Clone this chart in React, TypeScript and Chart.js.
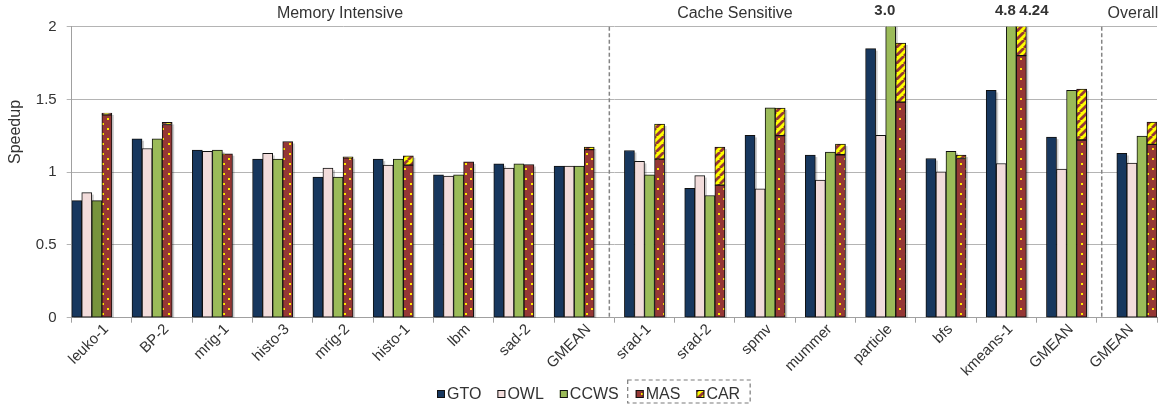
import { useEffect, useRef } from 'react';
import { Chart, registerables } from 'chart.js';

Chart.register(...registerables);

const FONT = '"Liberation Sans", Arial, Helvetica, sans-serif';
Chart.defaults.font.family = FONT;

// Benchmarks along the x axis, and the section each one belongs to
const categories = [
  'leuko-1', 'BP-2', 'mrig-1', 'histo-3', 'mrig-2', 'histo-1', 'lbm', 'sad-2', 'GMEAN',
  'srad-1', 'srad-2', 'spmv', 'mummer', 'particle', 'bfs', 'kmeans-1', 'GMEAN',
  'GMEAN',
];
const sectionOfCategory = [0, 0, 0, 0, 0, 0, 0, 0, 0, 1, 1, 1, 1, 1, 1, 1, 1, 2];
const sectionTitles = ['Memory Intensive', 'Cache Sensitive', 'Overall'];
// where each section heading sits, in category units
const sectionTitleAt = [3.95, 10.5, 17.1];

// Speedup per scheme
const gto = [0.805, 1.23, 1.152, 1.09, 0.966, 1.09, 0.982, 1.058, 1.042, 1.149, 0.89, 1.253, 1.118, 1.849, 1.094, 1.562, 1.241, 1.129];
const owl = [0.86, 1.163, 1.143, 1.129, 1.028, 1.049, 0.973, 1.028, 1.042, 1.074, 0.977, 0.886, 0.946, 1.253, 1.003, 1.06, 1.021, 1.062];
const ccws = [0.805, 1.23, 1.152, 1.09, 0.966, 1.09, 0.982, 1.058, 1.042, 0.982, 0.84, 1.443, 1.138, 3.0, 1.143, 4.8, 1.562, 1.248];
const mas = [1.395, 1.328, 1.127, 1.211, 1.099, 1.049, 1.071, 1.053, 1.155, 1.09, 0.911, 1.251, 1.12, 1.482, 1.094, 1.801, 1.221, 1.191];
// MAS + CAR combined speedup (CAR segment sits on top of MAS)
const masWithCar: (number | null)[] = [1.407, 1.342, null, null, 1.106, 1.113, null, null, 1.173, 1.331, 1.173, 1.441, 1.193, 1.888, 1.118, 4.24, 1.572, 1.345];

const yTicks = [0, 0.5, 1, 1.5, 2];
const yMax = 2;
const darkCcwsAt = [0];

const TEXT = '#333333';

function makeDots(ctx: CanvasRenderingContext2D): CanvasPattern {
  const c = document.createElement('canvas');
  c.width = 11;
  c.height = 10;
  const g = c.getContext('2d')!;
  g.fillStyle = '#953735';
  g.fillRect(0, 0, 11, 10);
  g.fillStyle = '#FFE600';
  g.fillRect(3, 3, 2, 2);
  g.fillRect(8, 8, 2, 2);
  return ctx.createPattern(c, 'repeat')!;
}

function makeStripes(ctx: CanvasRenderingContext2D): CanvasPattern {
  const s = 8;
  const c = document.createElement('canvas');
  c.width = s;
  c.height = s;
  const g = c.getContext('2d')!;
  g.fillStyle = '#FFFF00';
  g.fillRect(0, 0, s, s);
  g.strokeStyle = '#953735';
  g.lineWidth = 2.8;
  g.beginPath();
  for (const o of [-s, 0, s]) {
    g.moveTo(o, s);
    g.lineTo(o + s, 0);
  }
  g.stroke();
  return ctx.createPattern(c, 'repeat')!;
}

export default function App() {
  const ref = useRef<HTMLCanvasElement>(null);

  useEffect(() => {
    const canvas = ref.current!;
    const ctx0 = canvas.getContext('2d')!;
    const masFill = makeDots(ctx0);
    const carFill = makeStripes(ctx0);

    const series = [
      { label: 'GTO', slot: 0, fill: '#17375E' as any, at: (i: number) => gto[i] as any },
      { label: 'OWL', slot: 1, fill: '#F2DCDB' as any, at: (i: number) => owl[i] as any },
      { label: 'CCWS', slot: 2, fill: '#9BBB59' as any, at: (i: number) => ccws[i] as any },
      { label: 'MAS', slot: 3, fill: masFill as any, at: (i: number) => mas[i] as any },
      {
        label: 'CAR', slot: 3, fill: carFill as any,
        at: (i: number) => (masWithCar[i] === null ? null : [mas[i], masWithCar[i]]) as any,
      },
    ];
    const perSection = series.length;

    // one set of datasets per section so each section's cluster sits one slot further right
    const datasets: any[] = [];
    sectionTitles.forEach((_, s) => {
      series.forEach((ser) => {
        datasets.push({
          label: ser.label,
          stack: 'slot' + (ser.slot + s),
          data: categories.map((_c, i) => (sectionOfCategory[i] === s ? ser.at(i) : null)),
          backgroundColor:
            ser.label === 'CCWS'
              ? categories.map((_c, i) => (darkCcwsAt.includes(i) ? '#77933C' : '#9BBB59'))
              : ser.fill,
          borderColor: '#111111',
          borderWidth: 1,
          borderSkipped: false,
          categoryPercentage: 1,
          barPercentage: 1,
          clip: 0,
        });
      });
    });

    const decor = {
      id: 'decor',
      beforeDatasetsDraw(chart: any) {
        const { ctx, chartArea: a } = chart;
        ctx.save();
        ctx.beginPath();
        ctx.rect(a.left, a.top, a.right - a.left, a.bottom - a.top);
        ctx.clip();
        ctx.fillStyle = 'rgba(0,0,0,0.2)';
        chart.data.datasets.forEach((ds: any, di: number) => {
          const meta = chart.getDatasetMeta(di);
          meta.data.forEach((el: any, i: number) => {
            if (ds.data[i] == null) return;
            const { x, y, base, width } = el.getProps(['x', 'y', 'base', 'width'], true);
            ctx.fillRect(x - width / 2 + 2, Math.min(y, base) + 2, width, Math.abs(base - y));
          });
        });
        ctx.restore();
      },
      afterDraw(chart: any) {
        const { ctx, chartArea: a } = chart;
        const xs = chart.scales.x;
        ctx.save();

        // category names, slanted at 45 degrees under each tick slot
        ctx.fillStyle = TEXT;
        ctx.font = `15px ${FONT}`;
        ctx.textAlign = 'right';
        ctx.textBaseline = 'top';
        categories.forEach((name, i) => {
          ctx.save();
          ctx.translate(xs.getPixelForValue(i) - 1, a.bottom + 4);
          ctx.rotate(-Math.PI / 4);
          ctx.fillText(name, 0, 0);
          ctx.restore();
        });

        // dashed separators between sections
        ctx.strokeStyle = '#858585';
        ctx.lineWidth = 1.5;
        ctx.setLineDash([4, 2.5]);
        for (let b = 1; b < categories.length; b++) {
          const prev = sectionOfCategory[b - 1];
          const next = sectionOfCategory[b];
          if (prev === next) continue;
          const lastEl: any = chart.getDatasetMeta(prev * perSection + 3).data[b - 1];
          const firstEl: any = chart.getDatasetMeta(next * perSection).data[b];
          const xr = lastEl.x + lastEl.width / 2;
          const xl = firstEl.x - firstEl.width / 2;
          const xm = (xr + xl) / 2;
          ctx.beginPath();
          ctx.moveTo(xm, a.top);
          ctx.lineTo(xm, a.bottom);
          ctx.stroke();
        }
        ctx.setLineDash([]);

        // section headings
        ctx.fillStyle = TEXT;
        ctx.font = `16px ${FONT}`;
        ctx.textAlign = 'center';
        ctx.textBaseline = 'middle';
        sectionTitles.forEach((t, s) => {
          ctx.fillText(t, xs.getPixelForValue(sectionTitleAt[s]), 14);
        });

        // values of bars that run past the top of the axis
        ctx.font = `bold 15px ${FONT}`;
        chart.data.datasets.forEach((ds: any, di: number) => {
          const meta = chart.getDatasetMeta(di);
          ds.data.forEach((raw: any, i: number) => {
            if (raw == null) return;
            const top = Array.isArray(raw) ? raw[1] : raw;
            if (top <= yMax) return;
            const el: any = meta.data[i];
            if (ds.label === 'CAR') {
              ctx.textAlign = 'left';
              ctx.fillText(String(top), el.x - el.width / 2 + 3, 11);
            } else {
              ctx.textAlign = 'right';
              ctx.fillText(top.toFixed(1), el.x + el.width / 2 - 0.5, 11);
            }
          });
        });

        // y axis title
        ctx.save();
        ctx.translate(16, 132);
        ctx.rotate(-Math.PI / 2);
        ctx.font = `16px ${FONT}`;
        ctx.textAlign = 'center';
        ctx.textBaseline = 'middle';
        ctx.fillText('Speedup', 0, 0);
        ctx.restore();

        // legend
        const ly = 394;
        const box = 8;
        const gap = 16;
        ctx.font = `16px ${FONT}`;
        ctx.textAlign = 'left';
        ctx.textBaseline = 'middle';
        let x = 437;
        let groupLeft = 0;
        series.forEach((ser, k) => {
          const grouped = ser.label === 'MAS' || ser.label === 'CAR';
          if (grouped && groupLeft === 0) {
            x = x - gap + 9;
            groupLeft = x;
            x += 8;
          }
          ctx.fillStyle = ser.fill;
          ctx.fillRect(x, ly - box / 2, box, box);
          ctx.strokeStyle = '#111111';
          ctx.lineWidth = 1;
          ctx.strokeRect(x + 0.5, ly - box / 2 + 0.5, box - 1, box - 1);
          ctx.fillStyle = TEXT;
          ctx.fillText(ser.label, x + box + 2, ly + 1);
          const w = ctx.measureText(ser.label).width;
          x += box + 2 + w + (k === series.length - 1 ? 10 : gap);
        });
        ctx.strokeStyle = '#7A7A7A';
        ctx.lineWidth = 1.2;
        ctx.setLineDash([4, 3]);
        ctx.strokeRect(groupLeft, 380, x - groupLeft, 23);
        ctx.setLineDash([]);

        ctx.restore();
      },
    };

    const chart = new Chart(canvas, {
      type: 'bar',
      data: { labels: categories, datasets },
      options: {
        responsive: false,
        animation: false,
        devicePixelRatio: 1,
        layout: { padding: { top: 26.7, right: 14, left: 0, bottom: 0 } },
        plugins: {
          legend: { display: false },
          tooltip: { enabled: false },
        },
        scales: {
          x: {
            afterFit: (s: any) => {
              s.height = 88.3;
            },
            grid: { drawOnChartArea: false, color: '#A0A0A0', tickLength: 5 },
            border: { color: '#A0A0A0' },
            ticks: { display: false },
          },
          y: {
            min: 0,
            max: yMax,
            stacked: false,
            afterBuildTicks: (s: any) => {
              s.ticks = yTicks.map((v) => ({ value: v }));
            },
            afterFit: (s: any) => {
              s.width = 71.7;
            },
            grid: { color: '#B4B4B4', tickLength: 5 },
            border: { color: '#A0A0A0' },
            ticks: {
              font: { size: 15 },
              color: TEXT,
              padding: 10,
              callback: (v: any) => String(Number(v)),
            },
          },
        },
      } as any,
      plugins: [decor],
    });

    return () => chart.destroy();
  }, []);

  return (
    <div style={{ position: 'fixed', left: 0, top: 0, width: 1171, height: 406, background: '#fff' }}>
      <canvas ref={ref} width={1171} height={406} style={{ display: 'block' }} />
    </div>
  );
}
